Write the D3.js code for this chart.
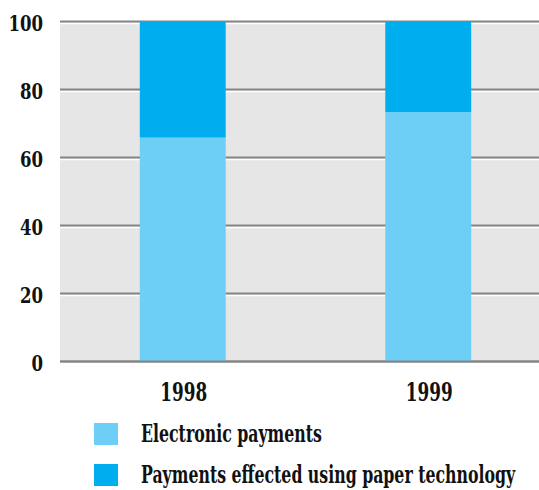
<!DOCTYPE html>
<html>
<head>
<meta charset="utf-8">
<script src="https://cdn.jsdelivr.net/npm/d3@7"></script>
<style>
  body { margin: 0; background: #fff; }
  text { font-family: "DejaVu Serif Condensed", "DejaVu Serif", serif; font-weight: bold; fill: #111; }
</style>
</head>
<body>
<div id="chart"></div>
<script>
// data
const years = ["1998", "1999"];
const electronic = [66, 73.5];
const paper = [34, 26.5];
const yTicks = [0, 20, 40, 60, 80, 100];
const seriesNames = ["Electronic payments", "Payments effected using paper technology"];
const seriesColors = ["#6dcff6", "#00aeef"];

const width = 539, height = 490;
const plotLeft = 60, plotRight = 539, plotTop = 22, plotBottom = 362;

const svg = d3.select("#chart").append("svg")
  .attr("width", width)
  .attr("height", height);

const y = d3.scaleLinear().domain([0, 100]).range([plotBottom, plotTop]);
const x = d3.scaleBand().domain(years)
  .range([plotLeft, plotLeft + 491])
  .paddingInner(0.65)
  .paddingOuter(0.325);

// squeeze the serif horizontally so it looks like the condensed face in the original
function condense(sel, factor) {
  sel.each(function() {
    const t = d3.select(this);
    const tx = +t.attr("x") || 0, ty = +t.attr("y") || 0;
    t.attr("x", 0).attr("y", 0)
      .attr("transform", `translate(${tx},${ty}) scale(${factor},1)`);
  });
}

// plot background
svg.append("rect")
  .attr("x", plotLeft).attr("y", plotTop)
  .attr("width", plotRight - plotLeft).attr("height", plotBottom - plotTop)
  .attr("fill", "#e6e6e6");

// grid lines (dark line with a thin white highlight below)
const grid = svg.append("g");
grid.selectAll(".hl").data(yTicks.filter(d => d > 0)).enter().append("line")
  .attr("x1", plotLeft).attr("x2", plotRight)
  .attr("y1", d => y(d) + 1.5).attr("y2", d => y(d) + 1.5)
  .attr("stroke", "#fff").attr("stroke-width", 1.5);
grid.selectAll(".gl").data(yTicks).enter().append("line")
  .attr("x1", plotLeft).attr("x2", plotRight)
  .attr("y1", d => y(d) - 0.5).attr("y2", d => y(d) - 0.5)
  .attr("stroke", "#858585").attr("stroke-width", 2.2);

// stacked bars
const stack = d3.stack().keys(["electronic", "paper"]);
const rows = years.map((yr, i) => ({ year: yr, electronic: electronic[i], paper: paper[i] }));
const layers = stack(rows);

svg.selectAll(".layer").data(layers).enter().append("g")
  .attr("fill", (d, i) => seriesColors[i])
  .selectAll("rect").data(d => d).enter().append("rect")
  .attr("x", d => x(d.data.year))
  .attr("width", x.bandwidth())
  .attr("y", d => y(d[1]))
  .attr("height", d => y(d[0]) - y(d[1]));

// baseline drawn over bars
svg.append("line")
  .attr("x1", plotLeft).attr("x2", plotRight)
  .attr("y1", y(0) - 0.5).attr("y2", y(0) - 0.5)
  .attr("stroke", "#858585").attr("stroke-width", 2.2);

// y tick labels
svg.append("g").selectAll("text").data(yTicks).enter().append("text")
  .attr("x", 43)
  .attr("y", d => y(d) + 8.5)
  .attr("text-anchor", "end")
  .style("font-size", "23px")
  .text(d => d)
  .call(condense, 0.8);

// x labels
svg.append("g").selectAll("text").data(years).enter().append("text")
  .attr("x", d => x(d) + x.bandwidth() / 2 + 1)
  .attr("y", 401)
  .attr("text-anchor", "middle")
  .style("font-size", "26px")
  .text(d => d)
  .call(condense, 0.72);

// legend
const legend = svg.append("g").selectAll("g").data(seriesNames).enter().append("g")
  .attr("transform", (d, i) => `translate(94, ${423 + i * 41})`);
legend.append("rect")
  .attr("width", 24).attr("height", 22)
  .attr("fill", (d, i) => seriesColors[i]);
legend.append("text")
  .attr("x", 47).attr("y", 19)
  .style("font-size", "24px")
  .text(d => d)
  .call(condense, 0.73);
</script>
</body>
</html>
